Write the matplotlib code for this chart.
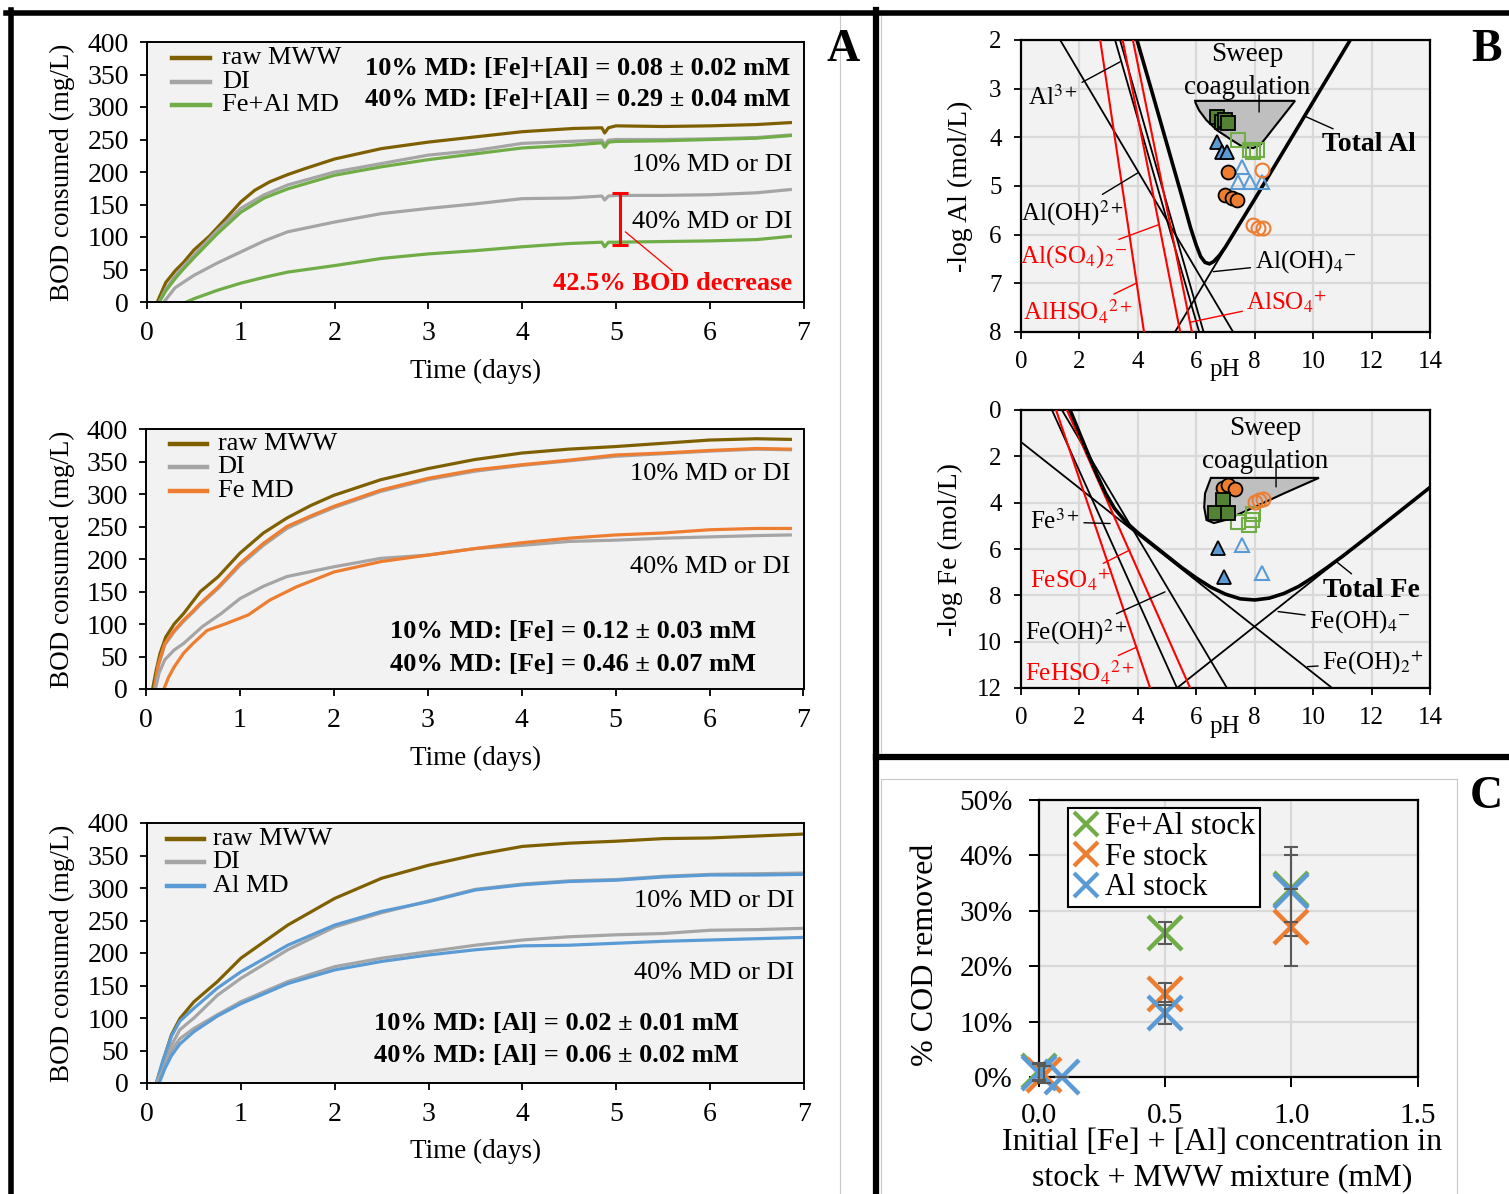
import matplotlib
matplotlib.use('Agg')
import matplotlib.pyplot as plt
from matplotlib.lines import Line2D
from matplotlib.patches import Polygon

plt.rcParams['font.family'] = ['Liberation Serif', 'DejaVu Serif']
plt.rcParams['mathtext.fontset'] = 'stix'

W, H = 1509, 1194
fig = plt.figure(figsize=(W / 100, H / 100), dpi=100)

def box(x0, y0, x1, y1):
    return [x0 / W, 1 - y1 / H, (x1 - x0) / W, (y1 - y0) / H]

def fx(x):
    return x / W

def fy(y):
    return 1 - y / H

BROWN = '#7F6000'
GREY = '#A5A5A5'
GREEN = '#70AD47'
DKGREEN = '#548235'
ORANGE = '#ED7D31'
BLUE = '#5B9BD5'
BG = '#F2F2F2'
GRID = '#D9D9D9'

# ---------------- Panel A data ----------------
# Fe+Al MD
a1_raw_t = [0.11, 0.2, 0.3, 0.39, 0.5, 0.67, 0.85, 1.0, 1.15, 1.31, 1.5, 1.68, 2.0, 2.5, 3.0, 3.5, 4.0, 4.55, 4.85, 4.88, 4.92, 5.0, 5.5, 6.0, 6.5, 6.86]
a1_raw_v = [0, 30, 48, 61, 80, 102, 130, 154, 172, 185, 196, 205, 220, 236, 246, 254, 262, 267, 268, 260, 268, 271, 270, 271, 273, 276]
a1_10_t = [0.13, 0.2, 0.3, 0.39, 0.5, 0.75, 1.0, 1.25, 1.5, 2.0, 2.5, 3.0, 3.5, 4.0, 4.5, 4.85, 4.88, 4.92, 5.0, 5.5, 6.0, 6.5, 6.86]
a1_di10_v = [0, 20, 40, 55, 72, 110, 144, 165, 180, 200, 213, 226, 233, 244, 247, 249, 242, 249, 250, 250, 251, 253, 257]
a1_md10_v = [0, 17, 36, 51, 68, 105, 138, 160, 174, 195, 208, 219, 228, 237, 241, 245, 238, 246, 247, 248, 250, 252, 256]
a1_di40_t = [0.18, 0.3, 0.5, 0.75, 1.0, 1.25, 1.5, 2.0, 2.5, 3.0, 3.5, 4.0, 4.5, 4.85, 4.88, 4.92, 5.0, 5.5, 6.0, 6.5, 6.86]
a1_di40_v = [0, 22, 41, 60, 77, 94, 108, 123, 136, 144, 151, 159, 160, 163, 157, 163, 164, 164, 165, 168, 173]
a1_md40_t = [0.42, 0.5, 0.75, 1.0, 1.25, 1.5, 2.0, 2.5, 3.0, 3.5, 4.0, 4.5, 4.85, 4.88, 4.92, 5.0, 5.5, 6.0, 6.5, 6.86]
a1_md40_v = [0, 5, 18, 29, 38, 46, 56, 67, 74, 79, 85, 90, 92, 85, 92, 92, 93, 94, 96, 101]

# Fe MD
a2_raw_t = [0.07, 0.11, 0.15, 0.21, 0.3, 0.4, 0.5, 0.58, 0.77, 1.0, 1.25, 1.5, 1.75, 2.0, 2.5, 3.0, 3.5, 4.0, 4.5, 5.0, 5.5, 6.0, 6.5, 6.86]
a2_raw_v = [0, 30, 55, 80, 100, 116, 135, 150, 173, 209, 240, 263, 282, 298, 322, 339, 353, 363, 369, 373, 378, 383, 385, 384]
a2_10_t = [0.09, 0.13, 0.2, 0.3, 0.4, 0.5, 0.58, 0.77, 1.0, 1.25, 1.5, 1.75, 2.0, 2.5, 3.0, 3.5, 4.0, 4.5, 5.0, 5.5, 6.0, 6.5, 6.86]
a2_di10_v = [0, 35, 68, 88, 104, 118, 130, 155, 190, 221, 247, 264, 279, 304, 322, 335, 344, 351, 358, 362, 366, 369, 368]
a2_md10_v = [0, 37, 70, 90, 106, 120, 132, 157, 193, 224, 250, 266, 281, 306, 324, 337, 345, 352, 360, 363, 367, 370, 369]
a2_di40_t = [0.1, 0.14, 0.2, 0.3, 0.4, 0.6, 0.8, 1.0, 1.25, 1.5, 2.0, 2.5, 3.0, 3.5, 4.0, 4.5, 5.0, 5.5, 6.0, 6.5, 6.86]
a2_di40_v = [0, 25, 45, 60, 70, 96, 116, 139, 158, 173, 188, 201, 206, 216, 221, 227, 229, 232, 234, 236, 237]
a2_md40_t = [0.19, 0.24, 0.3, 0.4, 0.5, 0.65, 0.86, 1.09, 1.32, 1.6, 2.0, 2.5, 3.0, 3.5, 4.0, 4.5, 5.0, 5.5, 6.0, 6.5, 6.86]
a2_md40_v = [0, 18, 34, 55, 70, 90, 101, 114, 137, 157, 180, 196, 206, 216, 225, 232, 237, 240, 245, 247, 247]

# Al MD
a3_t = [0.1, 0.17, 0.26, 0.35, 0.5, 0.75, 1.0, 1.5, 2.0, 2.5, 3.0, 3.5, 4.0, 4.5, 5.0, 5.5, 6.0, 6.5, 7.0]
a3_raw_v = [0, 33, 74, 99, 125, 156, 192, 243, 284, 315, 335, 351, 364, 369, 372, 376, 377, 380, 383]
a3_md10_v = [0, 35, 72, 95, 115, 146, 171, 212, 243, 264, 279, 297, 305, 310, 312, 317, 320, 320, 321]
a3_di10_v = [0, 25, 58, 82, 100, 135, 161, 205, 240, 262, 280, 298, 306, 311, 313, 318, 321, 322, 323]
a3_di40_v = [0, 20, 50, 68, 84, 105, 125, 156, 179, 192, 202, 212, 220, 225, 228, 230, 235, 236, 238]
a3_40_t = [0.13, 0.19, 0.26, 0.35, 0.5, 0.75, 1.0, 1.5, 2.0, 2.5, 3.0, 3.5, 4.0, 4.5, 5.0, 5.5, 6.0, 6.5, 7.0]
a3_md40_v = [0, 22, 42, 60, 79, 103, 122, 153, 174, 187, 197, 205, 211, 212, 215, 218, 220, 222, 224]

days_ticks = list(range(0, 8))
bod_ticks = list(range(0, 401, 50))

FS_A = 19
FS_TICK = 20


def setup_A(rect):
    ax = fig.add_axes(rect)
    ax.set_facecolor(BG)
    ax.set_xlim(0, 7)
    ax.set_ylim(0, 400)
    ax.set_xticks(days_ticks)
    ax.set_yticks(bod_ticks)
    ax.tick_params(axis='x', direction='out', length=5, width=1.3, pad=9, labelsize=FS_TICK)
    ax.tick_params(axis='y', direction='out', length=5, width=1.3, pad=8, labelsize=FS_TICK)
    for s in ax.spines.values():
        s.set_linewidth(1.4)
    return ax


def legend_A(ax, labels, colors, x0, x1, xt, ys):
    for lab, col, y in zip(labels, colors, ys):
        ax.add_line(Line2D([x0, x1], [y, y], transform=ax.transAxes, color=col, lw=3.2))
        ax.text(xt, y, lab, transform=ax.transAxes, fontsize=FS_A, va='center', ha='left')


LW = 2.3
# --- A1 ---
ax1 = setup_A(box(147, 42, 803.5, 302))
ax1.plot(a1_raw_t, a1_raw_v, color=BROWN, lw=LW)
ax1.plot(a1_10_t, a1_di10_v, color=GREY, lw=LW)
ax1.plot(a1_10_t, a1_md10_v, color=GREEN, lw=LW)
ax1.plot(a1_di40_t, a1_di40_v, color=GREY, lw=LW)
ax1.plot(a1_md40_t, a1_md40_v, color=GREEN, lw=LW)
legend_A(ax1, ['raw MWW', 'DI', 'Fe+Al MD'], [BROWN, GREY, GREEN], 0.038, 0.096, 0.114, [0.94, 0.848, 0.756])
ax1.text(6.86, 360, '10% MD: [Fe]+[Al] = 0.08 ± 0.02 mM', fontsize=FS_A, fontweight='bold', ha='right', va='center')
ax1.text(6.86, 311, '40% MD: [Fe]+[Al] = 0.29 ± 0.04 mM', fontsize=FS_A, fontweight='bold', ha='right', va='center')
ax1.text(6.88, 211, '10% MD or DI', fontsize=FS_A, ha='right', va='center')
ax1.text(6.88, 123, '40% MD or DI', fontsize=FS_A, ha='right', va='center')
ax1.text(6.88, 29, '42.5% BOD decrease', fontsize=FS_A, fontweight='bold', color='red', ha='right', va='center')
ax1.errorbar([5.04], [128], yerr=[[40], [40]], fmt='none', ecolor='red', elinewidth=2.2, capsize=6, capthick=2.2)
ax1.annotate('', xy=(5.1, 108), xytext=(5.6, 48), arrowprops=dict(arrowstyle='-', color='red', lw=0.9, shrinkA=0, shrinkB=0))

# --- A2 ---
ax2 = setup_A(box(146, 429, 803.5, 689))
ax2.plot(a2_raw_t, a2_raw_v, color=BROWN, lw=LW)
ax2.plot(a2_10_t, a2_di10_v, color=GREY, lw=LW)
ax2.plot(a2_10_t, a2_md10_v, color=ORANGE, lw=LW)
ax2.plot(a2_di40_t, a2_di40_v, color=GREY, lw=LW)
ax2.plot(a2_md40_t, a2_md40_v, color=ORANGE, lw=LW)
legend_A(ax2, ['raw MWW', 'DI', 'Fe MD'], [BROWN, GREY, ORANGE], 0.037, 0.093, 0.109, [0.943, 0.855, 0.76])
ax2.text(6.86, 331, '10% MD or DI', fontsize=FS_A, ha='right', va='center')
ax2.text(6.86, 188, '40% MD or DI', fontsize=FS_A, ha='right', va='center')
ax2.text(4.55, 88, '10% MD: [Fe] = 0.12 ± 0.03 mM', fontsize=FS_A, fontweight='bold', ha='center', va='center')
ax2.text(4.55, 37, '40% MD: [Fe] = 0.46 ± 0.07 mM', fontsize=FS_A, fontweight='bold', ha='center', va='center')

# --- A3 ---
ax3 = setup_A(box(147, 823, 804, 1083))
ax3.plot(a3_t, a3_raw_v, color=BROWN, lw=LW)
ax3.plot(a3_t, a3_di10_v, color=GREY, lw=LW)
ax3.plot(a3_t, a3_md10_v, color=BLUE, lw=LW)
ax3.plot(a3_t, a3_di40_v, color=GREY, lw=LW)
ax3.plot(a3_40_t, a3_md40_v, color=BLUE, lw=LW)
legend_A(ax3, ['raw MWW', 'DI', 'Al MD'], [BROWN, GREY, BLUE], 0.03, 0.087, 0.1, [0.94, 0.85, 0.758])
ax3.text(6.9, 280, '10% MD or DI', fontsize=FS_A, ha='right', va='center')
ax3.text(6.9, 169, '40% MD or DI', fontsize=FS_A, ha='right', va='center')
ax3.text(4.36, 92, '10% MD: [Al] = 0.02 ± 0.01 mM', fontsize=FS_A, fontweight='bold', ha='center', va='center')
ax3.text(4.36, 43, '40% MD: [Al] = 0.06 ± 0.02 mM', fontsize=FS_A, fontweight='bold', ha='center', va='center')

for yc, yl in [(172, 371), (559, 758), (953, 1151)]:
    fig.text(fx(62), fy(yc), 'BOD consumed (mg/L)', rotation=90, ha='center', va='center', fontsize=19.5)
    fig.text(fx(476), fy(yl), 'Time (days)', ha='center', va='center', fontsize=19.5)

# ---------------- Panel B data ----------------
ph_ticks = list(range(0, 15, 2))
# Al diagram lines (pH, -log Al)
al_oh_ph, al_oh_y = [1.34, 7.26], [2, 8]
al3_ph, al3_y = [3.39, 6.25], [2, 8]
al_b1_ph, al_b1_y = [3.22, 6.1], [2, 8]
al_oh4_ph, al_oh4_y = [5.27, 11.27], [8, 2]
alhso4_ph, alhso4_y = [2.71, 4.21], [2, 8]
also42_ph, also42_y = [3.48, 5.45], [2, 8]
also4_ph, also4_y = [3.83, 5.85], [2, 8]
al_tot_ph = [3.97, 4.5, 5.0, 5.5, 5.8, 6.0, 6.15, 6.3, 6.45, 6.6, 6.8, 7.0, 8.0, 9.0, 10.0, 11.27]
al_tot_y = [2.0, 3.1, 4.15, 5.2, 5.85, 6.22, 6.45, 6.57, 6.6, 6.55, 6.42, 6.25, 5.27, 4.27, 3.27, 2.0]
al_sweep_ph = [5.96, 9.38, 8.2, 7.95, 7.6, 7.2, 6.7, 6.35, 6.1, 5.98]
al_sweep_y = [3.25, 3.25, 4.15, 4.22, 4.2, 4.05, 3.85, 3.65, 3.45, 3.3]
# Al data points
al_fsq_ph, al_fsq_y = [6.71, 6.88, 6.99, 7.09], [3.58, 3.68, 3.64, 3.7]
al_osq_ph, al_osq_y = [7.43, 7.84, 7.95, 8.08], [4.05, 4.26, 4.3, 4.26]
al_ftr_ph, al_ftr_y = [6.71, 6.88, 7.05], [4.09, 4.3, 4.3]
al_otr_ph, al_otr_y = [7.57, 7.43, 7.84, 8.25], [4.6, 4.91, 4.91, 4.91]
al_fci_ph, al_fci_y = [7.09, 6.99, 7.22, 7.4], [4.71, 5.18, 5.24, 5.28]
al_oci_ph, al_oci_y = [8.25, 7.95, 8.12, 8.29], [4.67, 5.8, 5.86, 5.86]

# Fe diagram lines (pH, -log Fe)
fe3_ph, fe3_y = [1.06, 5.34], [0, 12]
feoh_ph, feoh_y = [1.4, 7.05], [0, 12]
feoh2_ph, feoh2_y = [0, 10.65], [1.38, 12]
feoh4_ph, feoh4_y = [5.34, 14], [12, 3.34]
fehso4_ph, fehso4_y = [1.2, 4.42], [0, 12]
feso4_ph, feso4_y = [1.57, 5.79], [0, 12]
fe_tot_ph = [1.68, 2.2, 2.6, 2.9, 3.2, 3.6, 4.0, 4.5, 5.0, 5.5, 6.0, 6.5, 7.0, 7.5, 8.0, 8.5, 9.0, 9.5, 10.0, 10.5, 11.0, 12.0, 13.0, 14.0]
fe_tot_y = [0.0, 1.6, 2.8, 3.6, 4.25, 4.85, 5.3, 5.8, 6.3, 6.8, 7.25, 7.65, 7.95, 8.15, 8.2, 8.12, 7.92, 7.62, 7.22, 6.78, 6.32, 5.34, 4.34, 3.34]
fe_sweep_ph = [6.5, 10.2, 9.0, 7.8, 7.0, 6.6, 6.35, 6.27, 6.3]
fe_sweep_y = [2.93, 2.93, 3.6, 4.3, 4.75, 4.88, 4.75, 4.2, 3.6]
# Fe data points
fe_fci_ph, fe_fci_y = [6.92, 7.09, 7.33], [3.37, 3.24, 3.42]
fe_fsq_ph, fe_fsq_y = [6.92, 6.64, 7.09], [3.88, 4.45, 4.45]
fe_osq_ph, fe_osq_y = [7.43, 7.8, 7.91, 7.95], [4.83, 4.95, 4.75, 4.5]
fe_oci_ph, fe_oci_y = [8.0, 8.15, 8.3], [3.95, 3.88, 3.85]
fe_ftr_ph, fe_ftr_y = [6.75, 6.95], [5.97, 7.2]
fe_otr_ph, fe_otr_y = [7.57, 8.25], [5.83, 7.05]

FS_B = 18


def setup_B(rect, ylim, yticks):
    ax = fig.add_axes(rect)
    ax.set_facecolor(BG)
    ax.set_xlim(0, 14)
    ax.set_ylim(*ylim)
    ax.set_xticks(ph_ticks)
    ax.set_yticks(yticks)
    ax.grid(True, color=GRID, lw=1.6)
    ax.set_axisbelow(True)
    ax.tick_params(direction='out', length=5, width=1.3, pad=9, labelsize=FS_B)
    for s in ax.spines.values():
        s.set_linewidth(1.6)
    return ax


def pts(ax, xs, ys, marker, face, edge, ms=10, mew=1.3):
    ax.plot(xs, ys, ls='none', marker=marker, ms=ms, mfc=face, mec=edge, mew=mew, zorder=5)


def lab(ax, text, xy, xyt, color='black', fs=FS_B, weight='normal'):
    ax.annotate(text, xy=xy, xytext=xyt, color=color, fontsize=fs, fontweight=weight,
                ha='center', va='center',
                arrowprops=dict(arrowstyle='-', color=color, lw=1.0, shrinkA=1, shrinkB=0))


# --- B1 (Al) ---
axb1 = setup_B(box(1021, 40, 1430, 332), (8, 2), list(range(2, 9)))
axb1.add_patch(Polygon(list(zip(al_sweep_ph, al_sweep_y)), closed=True, fc='#BFBFBF', ec='black', lw=1.5, zorder=2))
for xs, ys in [(al_oh_ph, al_oh_y), (al3_ph, al3_y), (al_b1_ph, al_b1_y), (al_oh4_ph, al_oh4_y)]:
    axb1.plot(xs, ys, color='black', lw=1.3, zorder=3)
for xs, ys in [(alhso4_ph, alhso4_y), (also42_ph, also42_y), (also4_ph, also4_y)]:
    axb1.plot(xs, ys, color='red', lw=1.5, zorder=3)
axb1.plot(al_tot_ph, al_tot_y, color='black', lw=2.6, zorder=4)
pts(axb1, al_fsq_ph, al_fsq_y, 's', DKGREEN, 'black')
pts(axb1, al_osq_ph, al_osq_y, 's', 'none', GREEN, mew=1.5)
pts(axb1, al_ftr_ph, al_ftr_y, '^', BLUE, 'black')
pts(axb1, al_otr_ph, al_otr_y, '^', 'none', BLUE, mew=1.5)
pts(axb1, al_fci_ph, al_fci_y, 'o', ORANGE, 'black')
pts(axb1, al_oci_ph, al_oci_y, 'o', 'none', ORANGE, mew=1.5)
axb1.text(7.75, 2.3, 'Sweep', fontsize=19.5, ha='center', va='center')
axb1.text(7.75, 2.97, 'coagulation', fontsize=19.5, ha='center', va='center')
axb1.annotate('', xy=(8.15, 3.48), xytext=(8.15, 3.13), arrowprops=dict(arrowstyle='-', lw=1.0, shrinkA=0, shrinkB=0))
lab(axb1, 'Total Al', (9.73, 3.57), (11.9, 4.15), weight='bold', fs=20)
lab(axb1, r'Al$^{3+}$', (3.39, 2.45), (1.1, 3.19))
lab(axb1, r'Al(OH)$^{2+}$', (4.0, 4.73), (1.75, 5.55))
lab(axb1, r'Al(SO$_4$)$_2$$^{-}$', (4.69, 5.8), (1.8, 6.44), color='red')
lab(axb1, r'AlHSO$_4$$^{2+}$', (3.97, 6.99), (1.95, 7.58), color='red')
lab(axb1, r'AlSO$_4$$^{+}$', (5.79, 7.8), (9.1, 7.38), color='red')
lab(axb1, r'Al(OH)$_4$$^{-}$', (6.58, 6.76), (9.73, 6.56))

# --- B2 (Fe) ---
axb2 = setup_B(box(1021, 410, 1430, 688), (12, 0), list(range(0, 13, 2)))
axb2.add_patch(Polygon(list(zip(fe_sweep_ph, fe_sweep_y)), closed=True, fc='#BFBFBF', ec='black', lw=1.5, zorder=2))
for xs, ys in [(fe3_ph, fe3_y), (feoh_ph, feoh_y), (feoh2_ph, feoh2_y), (feoh4_ph, feoh4_y)]:
    axb2.plot(xs, ys, color='black', lw=1.3, zorder=3)
for xs, ys in [(fehso4_ph, fehso4_y), (feso4_ph, feso4_y)]:
    axb2.plot(xs, ys, color='red', lw=1.5, zorder=3)
axb2.plot(fe_tot_ph, fe_tot_y, color='black', lw=2.6, zorder=4)
pts(axb2, fe_osq_ph, fe_osq_y, 's', 'none', GREEN, mew=1.5)
pts(axb2, fe_oci_ph, fe_oci_y, 'o', 'none', ORANGE, mew=1.5)
pts(axb2, fe_fci_ph, fe_fci_y, 'o', ORANGE, 'black')
pts(axb2, fe_fsq_ph, fe_fsq_y, 's', DKGREEN, 'black')
pts(axb2, fe_ftr_ph, fe_ftr_y, '^', BLUE, 'black')
pts(axb2, fe_otr_ph, fe_otr_y, '^', 'none', BLUE, mew=1.5)
axb2.text(8.36, 0.78, 'Sweep', fontsize=19.5, ha='center', va='center')
axb2.text(8.36, 2.24, 'coagulation', fontsize=19.5, ha='center', va='center')
axb2.annotate('', xy=(8.73, 3.32), xytext=(8.73, 2.45), arrowprops=dict(arrowstyle='-', lw=1.0, shrinkA=0, shrinkB=0))
lab(axb2, 'Total Fe', (10.8, 6.55), (12.0, 7.77), weight='bold', fs=20)
lab(axb2, r'Fe$^{3+}$', (3.05, 4.9), (1.16, 4.83))
lab(axb2, r'FeSO$_4$$^{+}$', (3.73, 6.04), (1.68, 7.34), color='red')
lab(axb2, r'Fe(OH)$^{2+}$', (4.93, 7.85), (1.88, 9.58))
lab(axb2, r'FeHSO$_4$$^{2+}$', (3.97, 10.23), (2.02, 11.35), color='red')
lab(axb2, r'Fe(OH)$_4$$^{-}$', (8.8, 8.7), (11.6, 9.15))
lab(axb2, r'Fe(OH)$_2$$^{+}$', (9.8, 11.08), (12.05, 10.9))

fig.text(fx(1225), fy(370), 'pH', ha='center', va='center', fontsize=FS_B)
fig.text(fx(1225), fy(727), 'pH', ha='center', va='center', fontsize=FS_B)
fig.text(fx(960), fy(186), '-log Al (mol/L)', rotation=90, ha='center', va='center', fontsize=20)
fig.text(fx(950), fy(549), '-log Fe (mol/L)', rotation=90, ha='center', va='center', fontsize=20)

# ---------------- Panel C data ----------------
c_feal_x, c_feal_y, c_feal_e = [0.0, 0.5, 1.0], [1.0, 26.0, 34.0], [1.5, 2.0, 6.0]
c_fe_x, c_fe_y, c_fe_e = [0.02, 0.5, 1.0], [0.4, 15.0, 27.0], [1.5, 2.0, 7.0]
c_al_x, c_al_y, c_al_e = [0.0, 0.09, 0.5, 1.0], [0.8, 0.0, 11.5, 33.5], [1.5, 0.0, 2.0, 8.0]
c_xticks = [0.0, 0.5, 1.0, 1.5]
c_yticks = [0, 10, 20, 30, 40, 50]

FS_C = 21
axc = fig.add_axes(box(1039, 800, 1417.5, 1077))
axc.set_facecolor(BG)
axc.set_xlim(0, 1.5)
axc.set_ylim(0, 50)
axc.set_xticks(c_xticks)
axc.set_xticklabels([f'{v:.1f}' for v in c_xticks])
axc.set_yticks(c_yticks)
axc.set_yticklabels([f'{v}%' for v in c_yticks])
axc.grid(True, color=GRID, lw=1.6)
axc.set_axisbelow(True)
axc.tick_params(direction='out', length=7, width=1.4, pad=12, labelsize=FS_C)
for s in axc.spines.values():
    s.set_linewidth(1.6)
for xs, ys, c in [(c_feal_x, c_feal_y, GREEN), (c_fe_x, c_fe_y, ORANGE), (c_al_x, c_al_y, BLUE)]:
    axc.plot(xs, ys, ls='none', marker='x', ms=24, mew=3.2, color=c, clip_on=False, zorder=3)
for xs, ys, es in [(c_feal_x, c_feal_y, c_feal_e), (c_fe_x, c_fe_y, c_fe_e), (c_al_x, c_al_y, c_al_e)]:
    axc.errorbar(xs, ys, yerr=es, fmt='none', ecolor='#595959', elinewidth=1.5, capsize=5, capthick=1.5, zorder=4, clip_on=False)
handles = [Line2D([], [], ls='none', marker='x', ms=17, mew=3, color=c) for c in (GREEN, ORANGE, BLUE)]
leg = axc.legend(handles, ['Fe+Al stock', 'Fe stock', 'Al stock'], loc='upper left', bbox_to_anchor=(0.077, 0.972),
                 borderaxespad=0, borderpad=0.15, handlelength=0.9, handletextpad=0.15, labelspacing=0.05,
                 fancybox=False, edgecolor='black', framealpha=1, facecolor='white', fontsize=22)
leg.get_frame().set_linewidth(1.5)
fig.text(fx(925), fy(955), '% COD removed', rotation=90, ha='center', va='center', fontsize=23)
fig.text(fx(1222), fy(1142), 'Initial [Fe] + [Al] concentration in', ha='center', va='center', fontsize=23)
fig.text(fx(1222), fy(1178), 'stock + MWW mixture (mM)', ha='center', va='center', fontsize=23)

# ---------------- frames and panel letters ----------------
def fline(x0, y0, x1, y1, lw, color='black'):
    fig.add_artist(Line2D([fx(x0), fx(x1)], [fy(y0), fy(y1)], transform=fig.transFigure, color=color, lw=lw))

fline(840, 15, 840, 1194, 0.8, '#C8C8C8')
fline(881, 15, 881, 752, 0.8, '#C8C8C8')
fline(881, 779, 1457, 779, 0.8, '#C8C8C8')
fline(1457, 779, 1457, 1194, 0.8, '#C8C8C8')
fline(881, 779, 881, 1194, 0.8, '#C8C8C8')
fline(6, 12.5, 1509, 12.5, 4.0)
fline(10.5, 10, 10.5, 1194, 4.0)
fline(876, 10, 876, 1194, 4.5)
fline(876, 757, 1509, 757, 4.5)

fig.text(fx(843), fy(50), 'A', ha='center', va='center', fontsize=33, fontweight='bold')
fig.text(fx(1486), fy(50), 'B', ha='center', va='center', fontsize=33, fontweight='bold')
fig.text(fx(1486), fy(797), 'C', ha='center', va='center', fontsize=33, fontweight='bold')

fig.savefig('out.png', dpi=100)
